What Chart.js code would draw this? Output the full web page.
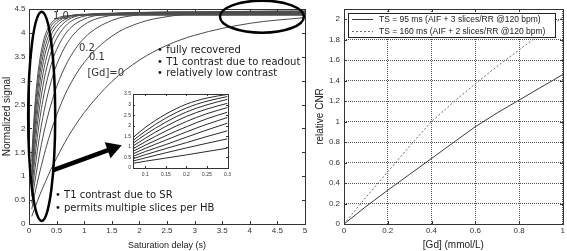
<!DOCTYPE html>
<html>
<head>
<meta charset="utf-8">
<title>Saturation recovery signal and relative CNR</title>
<script src="https://cdn.jsdelivr.net/npm/chart.js@4.4.1/dist/chart.umd.min.js"></script>
<style>
  html, body { margin: 0; padding: 0; background: #fff; }
  #wrap { position: relative; width: 567px; height: 251px; overflow: hidden; }
  canvas { position: absolute; }
  #signalChart { left: 0; top: 0; }
  #cnrChart { left: 310px; top: 0; }
  #insetChart { left: 110px; top: 85px; }
</style>
</head>
<body>
<div id="wrap">
  <canvas id="signalChart" width="312" height="251"></canvas>
  <canvas id="cnrChart" width="257" height="251"></canvas>
  <canvas id="insetChart" width="125" height="100"></canvas>
</div>
<script>
// saturation delay (s) and normalized signal, one curve per [Gd] (mmol/L)
const delays = [0.05, 0.1, 0.15, 0.2, 0.25, 0.3, 0.4, 0.5, 0.7, 1.0, 1.5, 2.0, 2.5, 3.0, 4.0, 5.0];
const gdLevels = ['0', '0.1', '0.2', '0.3', '0.4', '0.5', '0.6', '0.7', '0.8', '0.9', '1.0'];
const signalGd0 = [0.16, 0.32, 0.47, 0.62, 0.76, 0.89, 1.15, 1.38, 1.81, 2.33, 2.98, 3.43, 3.74, 3.95, 4.20, 4.32];
const signalGd1 = [0.31, 0.60, 0.86, 1.11, 1.34, 1.56, 1.95, 2.28, 2.82, 3.38, 3.93, 4.21, 4.34, 4.40, 4.45, 4.46];
const signalGd2 = [0.44, 0.84, 1.19, 1.52, 1.81, 2.07, 2.51, 2.87, 3.40, 3.89, 4.26, 4.38, 4.43, 4.44, 4.45, 4.45];
const signalGd3 = [0.58, 1.08, 1.52, 1.90, 2.23, 2.51, 2.98, 3.33, 3.80, 4.17, 4.37, 4.42, 4.44, 4.44, 4.44, 4.44];
const signalGd4 = [0.71, 1.31, 1.81, 2.23, 2.58, 2.87, 3.33, 3.65, 4.04, 4.29, 4.40, 4.43, 4.43, 4.43, 4.43, 4.43];
const signalGd5 = [0.84, 1.52, 2.07, 2.51, 2.87, 3.17, 3.60, 3.88, 4.19, 4.35, 4.41, 4.42, 4.42, 4.42, 4.42, 4.42];
const signalGd6 = [0.96, 1.71, 2.30, 2.76, 3.12, 3.40, 3.80, 4.03, 4.27, 4.38, 4.41, 4.41, 4.41, 4.41, 4.41, 4.41];
const signalGd7 = [1.08, 1.90, 2.51, 2.98, 3.33, 3.60, 3.95, 4.14, 4.31, 4.38, 4.40, 4.40, 4.40, 4.40, 4.40, 4.40];
const signalGd8 = [1.19, 2.07, 2.70, 3.17, 3.50, 3.75, 4.05, 4.21, 4.34, 4.39, 4.39, 4.39, 4.39, 4.39, 4.39, 4.39];
const signalGd9 = [1.31, 2.23, 2.87, 3.33, 3.65, 3.88, 4.14, 4.26, 4.35, 4.38, 4.38, 4.38, 4.38, 4.38, 4.38, 4.38];
const signalGd10 = [1.41, 2.37, 3.03, 3.47, 3.77, 3.98, 4.20, 4.30, 4.36, 4.37, 4.37, 4.37, 4.37, 4.37, 4.37, 4.37];
const signalSeries = [signalGd0, signalGd1, signalGd2, signalGd3, signalGd4, signalGd5,
                      signalGd6, signalGd7, signalGd8, signalGd9, signalGd10];

// inset: short saturation delays
const insetDelays = [0.07, 0.1, 0.15, 0.2, 0.25, 0.3];
const insetGd0 = [0.22, 0.32, 0.47, 0.62, 0.78, 0.94];
const insetGd1 = [0.33, 0.48, 0.72, 0.95, 1.17, 1.38];
const insetGd2 = [0.44, 0.63, 0.92, 1.20, 1.49, 1.76];
const insetGd3 = [0.55, 0.78, 1.11, 1.46, 1.80, 2.12];
const insetGd4 = [0.67, 0.93, 1.32, 1.71, 2.07, 2.39];
const insetGd5 = [0.79, 1.08, 1.53, 1.95, 2.33, 2.64];
const insetGd6 = [0.91, 1.24, 1.75, 2.20, 2.57, 2.86];
const insetGd7 = [1.04, 1.41, 1.97, 2.44, 2.79, 3.06];
const insetGd8 = [1.17, 1.58, 2.17, 2.65, 2.99, 3.25];
const insetGd9 = [1.30, 1.74, 2.36, 2.84, 3.16, 3.38];
const insetGd10 = [1.44, 1.92, 2.55, 3.02, 3.31, 3.48];
const insetSeries = [insetGd0, insetGd1, insetGd2, insetGd3, insetGd4, insetGd5,
                     insetGd6, insetGd7, insetGd8, insetGd9, insetGd10];

// relative CNR against [Gd]
const gdConc = [0, 0.1, 0.2, 0.3, 0.4, 0.5, 0.6, 0.7, 0.8, 0.9, 1.0];
const cnrTs95 = [0, 0.17, 0.33, 0.485, 0.64, 0.795, 0.95, 1.085, 1.21, 1.335, 1.46];
const cnrTs160 = [0, 0.26, 0.51, 0.76, 1.0, 1.19, 1.37, 1.54, 1.70, 1.86, 2.02];
const cnrNames = ['TS = 95 ms (AIF + 3 slices/RR @120 bpm)', 'TS = 160 ms (AIF + 2 slices/RR @120 bpm)'];

// tick labels
const signalXTicks = [0, 0.5, 1, 1.5, 2, 2.5, 3, 3.5, 4, 4.5, 5];
const signalYTicks = [0, 0.5, 1, 1.5, 2, 2.5, 3, 3.5, 4, 4.5];
const insetXTicks = [0.1, 0.15, 0.2, 0.25, 0.3];
const insetYTicks = [0, 0.5, 1, 1.5, 2, 2.5, 3, 3.5];
const cnrXTicks = [0, 0.2, 0.4, 0.6, 0.8, 1];
const cnrYTicks = [0, 0.2, 0.4, 0.6, 0.8, 1, 1.2, 1.4, 1.6, 1.8, 2];

// annotations on the signal plot, in data units
const ellipseMarks = [
  { x: 0.23, y: 2.255, rx: 0.245, ry: 2.19 },
  { x: 4.22, y: 4.34, rx: 0.76, ry: 0.335 }
];
const arrowMark = { from: [0.44, 1.13], to: [1.68, 1.65] };
const noteLines = [
  { text: '• fully recovered', x: 2.32, y: 3.64 },
  { text: '• T1 contrast due to readout', x: 2.32, y: 3.39 },
  { text: '• relatively low contrast', x: 2.32, y: 3.15 },
  { text: '• T1 contrast due to SR', x: 0.47, y: 0.59 },
  { text: '• permits multiple slices per HB', x: 0.47, y: 0.32 }
];
const curveTags = [
  { text: '1.0', x: 0.58, y: 4.35 },
  { text: '0.2', x: 1.05, y: 3.68 },
  { text: '0.1', x: 1.23, y: 3.49 },
  { text: '[Gd]=0', x: 1.39, y: 3.16 }
];

const sans = '"Liberation Sans", Arial, sans-serif';

function linearAxis(o) {
  return {
    type: 'linear',
    min: o.min,
    max: o.max,
    afterBuildTicks: s => { s.ticks = o.ticks.map(v => ({ value: v })); },
    afterFit: s => { if (s.isHorizontal()) s.height = o.size; else s.width = o.size; },
    grid: o.dotted
      ? { display: true, drawTicks: false, color: '#555', lineWidth: 1 }
      : { display: false, drawTicks: false },
    border: { display: false, dash: [1, 1] },
    ticks: {
      autoSkip: false, maxRotation: 0, padding: o.pad, color: '#333',
      font: { family: sans, size: o.font },
      callback: v => String(v)
    },
    title: o.title
      ? { display: true, text: o.title, color: '#222', font: { family: sans, size: o.titleSize }, padding: o.titlePad }
      : { display: false }
  };
}

// MATLAB-like box with inward tick marks
function drawBox(chart, len) {
  const { ctx, chartArea: a, scales } = chart;
  const sx = scales.x, sy = scales.y;
  const left = Math.round(a.left), right = Math.round(a.right);
  const top = Math.round(a.top), bottom = Math.round(a.bottom);
  ctx.save();
  ctx.lineWidth = 1;
  ctx.setLineDash([]);
  ctx.strokeStyle = '#333';
  ctx.beginPath();
  sx.ticks.forEach(t => {
    const px = Math.round(sx.getPixelForValue(t.value)) + 0.5;
    ctx.moveTo(px, bottom); ctx.lineTo(px, bottom - len);
    ctx.moveTo(px, top); ctx.lineTo(px, top + len);
  });
  sy.ticks.forEach(t => {
    const py = Math.round(sy.getPixelForValue(t.value)) + 0.5;
    ctx.moveTo(left, py); ctx.lineTo(left + len, py);
    ctx.moveTo(right, py); ctx.lineTo(right - len, py);
  });
  ctx.stroke();
  ctx.strokeRect(left + 0.5, top + 0.5, right - left, bottom - top);
  ctx.restore();
}

const boxPlain = { id: 'boxPlain', afterDatasetsDraw: c => { drawBox(c, 3); } };
const boxSmall = { id: 'boxSmall', afterDatasetsDraw: c => { drawBox(c, 2); } };

// ellipses, arrow and text notes on the signal plot
const signalNotes = {
  id: 'signalNotes',
  afterDraw(chart) {
    const { ctx, scales: { x, y } } = chart;
    const px = v => x.getPixelForValue(v);
    const py = v => y.getPixelForValue(v);
    ctx.save();
    ctx.strokeStyle = '#000';
    ctx.fillStyle = '#000';
    ctx.lineWidth = 2.5;
    ellipseMarks.forEach(e => {
      ctx.beginPath();
      ctx.ellipse(px(e.x), py(e.y), Math.abs(px(e.x + e.rx) - px(e.x)),
                  Math.abs(py(e.y + e.ry) - py(e.y)), 0, 0, Math.PI * 2);
      ctx.stroke();
    });

    const x1 = px(arrowMark.from[0]), y1 = py(arrowMark.from[1]);
    const x2 = px(arrowMark.to[0]), y2 = py(arrowMark.to[1]);
    const ang = Math.atan2(y2 - y1, x2 - x1);
    const head = 15, half = 8.5;
    const bx = x2 - head * Math.cos(ang), by = y2 - head * Math.sin(ang);
    ctx.lineWidth = 4.5;
    ctx.beginPath();
    ctx.moveTo(x1, y1);
    ctx.lineTo(bx + 2 * Math.cos(ang), by + 2 * Math.sin(ang));
    ctx.stroke();
    ctx.beginPath();
    ctx.moveTo(x2, y2);
    ctx.lineTo(bx + half * Math.sin(ang), by - half * Math.cos(ang));
    ctx.lineTo(bx - half * Math.sin(ang), by + half * Math.cos(ang));
    ctx.closePath();
    ctx.fill();

    ctx.fillStyle = '#1a1a1a';
    ctx.font = '10px "DejaVu Sans", sans-serif';
    ctx.textBaseline = 'middle';
    ctx.textAlign = 'left';
    noteLines.forEach(n => ctx.fillText(n.text, px(n.x), py(n.y)));
    ctx.textAlign = 'center';
    ctx.fillStyle = '#333';
    curveTags.forEach(n => ctx.fillText(n.text, px(n.x), py(n.y)));
    ctx.restore();
  }
};

// legend drawn inside the CNR plot, top left
const innerLegend = {
  id: 'innerLegend',
  afterDraw(chart) {
    const { ctx, chartArea: a } = chart;
    const sets = chart.data.datasets;
    ctx.save();
    ctx.font = '8.5px ' + sans;
    const w = Math.max(...sets.map(d => ctx.measureText(d.label).width)) + 41;
    const x0 = Math.round(a.left) + 4, y0 = Math.round(a.top) + 4, rowH = 12;
    const h = sets.length * rowH;
    ctx.fillStyle = '#fff';
    ctx.fillRect(x0, y0, w, h);
    ctx.strokeStyle = '#222';
    ctx.lineWidth = 1;
    ctx.strokeRect(x0 + 0.5, y0 + 0.5, Math.round(w), h);
    sets.forEach((d, i) => {
      const cy = y0 + 6.5 + i * rowH;
      ctx.strokeStyle = d.borderColor;
      ctx.setLineDash(d.borderDash || []);
      ctx.beginPath();
      ctx.moveTo(x0 + 4, cy);
      ctx.lineTo(x0 + 25, cy);
      ctx.stroke();
      ctx.setLineDash([]);
      ctx.fillStyle = '#222';
      ctx.textBaseline = 'middle';
      ctx.textAlign = 'left';
      ctx.fillText(d.label, x0 + 31, cy);
    });
    ctx.restore();
  }
};

const baseOptions = {
  responsive: false,
  animation: false,
  events: [],
  elements: { point: { radius: 0 } }
};

new Chart(document.getElementById('signalChart'), {
  type: 'line',
  data: {
    datasets: signalSeries.map((vals, i) => ({
      label: '[Gd]=' + gdLevels[i],
      data: delays.map((t, k) => ({ x: t, y: vals[k] })),
      borderColor: '#4a4a4a',
      borderWidth: 1,
      fill: false,
      cubicInterpolationMode: 'monotone'
    }))
  },
  options: {
    ...baseOptions,
    layout: { padding: { left: 0, top: 9, right: 7, bottom: 0 } },
    plugins: { legend: { display: false }, tooltip: { enabled: false } },
    scales: {
      x: linearAxis({ min: 0, max: 5, ticks: signalXTicks, size: 27, pad: 2, font: 8,
                      title: 'Saturation delay (s)', titleSize: 9, titlePad: { top: 0, bottom: 0 } }),
      y: linearAxis({ min: 0, max: 4.5, ticks: signalYTicks, size: 29, pad: 3.5, font: 8,
                      title: 'Normalized signal', titleSize: 10, titlePad: { top: 1, bottom: 0 } })
    }
  },
  plugins: [boxPlain, signalNotes]
});

new Chart(document.getElementById('insetChart'), {
  type: 'line',
  data: {
    datasets: insetSeries.map((vals, i) => ({
      label: '[Gd]=' + gdLevels[i],
      data: insetDelays.map((t, k) => ({ x: t, y: vals[k] })),
      borderColor: '#2a2a2a',
      borderWidth: 1,
      fill: false,
      cubicInterpolationMode: 'monotone'
    }))
  },
  options: {
    ...baseOptions,
    layout: { padding: { left: 0, top: 9, right: 7, bottom: 0 } },
    plugins: { legend: { display: false }, tooltip: { enabled: false } },
    scales: {
      x: linearAxis({ min: 0.07, max: 0.3, ticks: insetXTicks, size: 17, pad: 4, font: 5 }),
      y: linearAxis({ min: 0, max: 3.5, ticks: insetYTicks, size: 23, pad: 2, font: 5 })
    }
  },
  plugins: [boxSmall]
});

new Chart(document.getElementById('cnrChart'), {
  type: 'line',
  data: {
    datasets: [
      { label: cnrNames[0], data: gdConc.map((g, k) => ({ x: g, y: cnrTs95[k] })),
        borderColor: '#3a3a3a', borderWidth: 1, fill: false },
      { label: cnrNames[1], data: gdConc.map((g, k) => ({ x: g, y: cnrTs160[k] })),
        borderColor: '#6a6a6a', borderWidth: 1, borderDash: [2, 2], fill: false }
    ]
  },
  options: {
    ...baseOptions,
    layout: { padding: { left: 0, top: 9, right: 3, bottom: 0 } },
    plugins: { legend: { display: false }, tooltip: { enabled: false } },
    scales: {
      x: linearAxis({ min: 0, max: 1, ticks: cnrXTicks, size: 27, pad: 2, font: 8, dotted: true,
                      title: '[Gd] (mmol/L)', titleSize: 10, titlePad: { top: 0, bottom: 0 } }),
      y: linearAxis({ min: 0, max: 2.1, ticks: cnrYTicks, size: 34, pad: 4, font: 8, dotted: true,
                      title: 'relative CNR', titleSize: 10, titlePad: { top: 4, bottom: 0 } })
    }
  },
  plugins: [boxPlain, innerLegend]
});
</script>
</body>
</html>
